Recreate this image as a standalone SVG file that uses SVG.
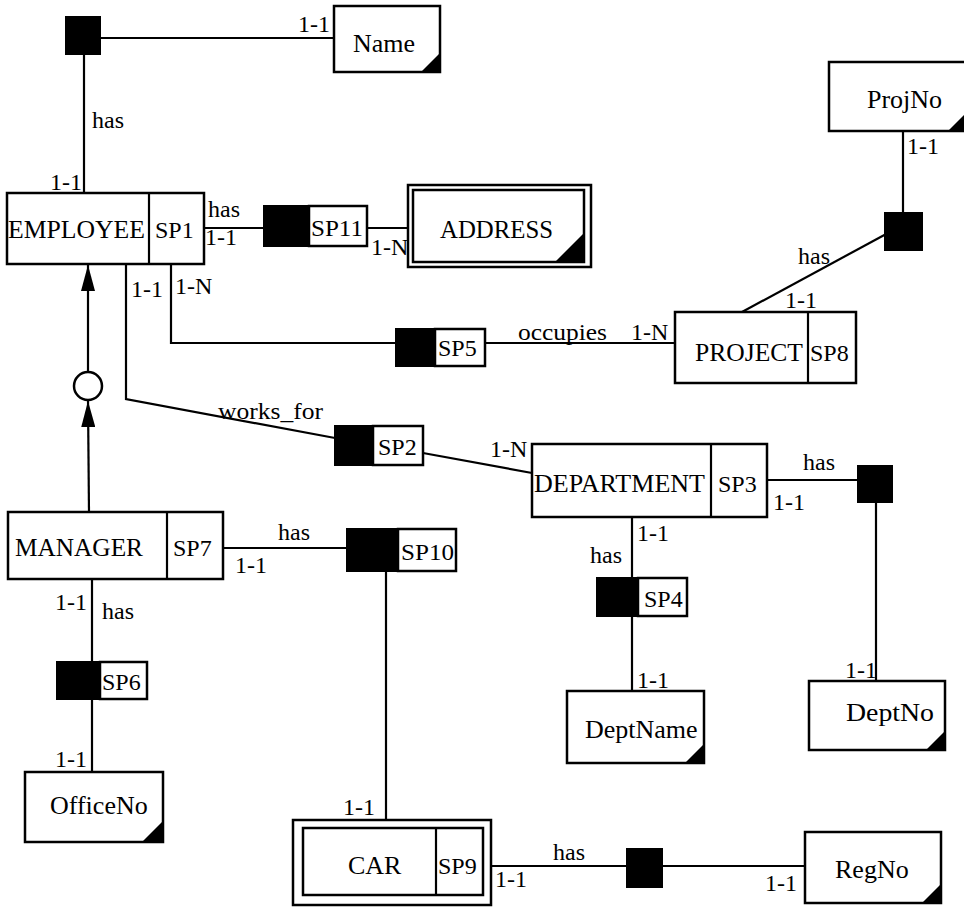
<svg xmlns="http://www.w3.org/2000/svg" width="964" height="907" viewBox="0 0 964 907">
<style>
text{font-family:"Liberation Serif","Times New Roman",serif;font-size:24px;fill:#000}
text.nm{font-size:26px}
.box{fill:#fff;stroke:#000;stroke-width:2.5}
.blk{fill:#000;stroke:#000;stroke-width:2}
.ln{fill:none;stroke:#000;stroke-width:2.2}
.tri{fill:#000}
</style>
<defs>
<marker id="arr" markerUnits="userSpaceOnUse" markerWidth="26" markerHeight="14" refX="26" refY="7" orient="auto">
<path d="M0,0 L26,7 L0,14 z" fill="#000"/>
</marker>
</defs>
<rect width="964" height="907" fill="#fff"/>

<g id="connectors">
<line class="ln" x1="100" y1="38" x2="334" y2="38"/>
<line class="ln" x1="84" y1="54" x2="84" y2="193"/>
<line class="ln" x1="204" y1="228" x2="264" y2="228"/>
<line class="ln" x1="367" y1="228" x2="408" y2="228"/>
<polyline class="ln" points="171,264 171,343 396,343"/>
<line class="ln" x1="485" y1="343" x2="675" y2="343"/>
<line class="ln" x1="742" y1="312" x2="888" y2="233"/>
<line class="ln" x1="903" y1="213" x2="903" y2="131"/>
<polyline class="ln" points="126,264 126,399 335,438"/>
<line class="ln" x1="423" y1="453" x2="532" y2="473"/>
<line class="ln" x1="767" y1="480" x2="858" y2="480"/>
<line class="ln" x1="876" y1="502" x2="876" y2="681"/>
<line class="ln" x1="632" y1="517" x2="632" y2="578"/>
<line class="ln" x1="632" y1="616" x2="632" y2="691"/>
<line class="ln" x1="223" y1="548" x2="347" y2="548"/>
<line class="ln" x1="386" y1="571" x2="386" y2="820"/>
<line class="ln" x1="92" y1="579" x2="92" y2="662"/>
<line class="ln" x1="92" y1="699" x2="92" y2="772"/>
<line class="ln" x1="491" y1="866" x2="627" y2="866"/>
<line class="ln" x1="662" y1="866" x2="805" y2="866"/>
<line class="ln" x1="89" y1="512" x2="88" y2="401" marker-end="url(#arr)"/>
<line class="ln" x1="88" y1="372" x2="88" y2="265" marker-end="url(#arr)"/>
<circle cx="88" cy="386" r="14" fill="#fff" stroke="#000" stroke-width="2.5"/>
</g>

<g id="labels">
<text x="298" y="32">1-1</text>
<text x="92" y="128">has</text>
<text x="50" y="190">1-1</text>
<text x="208" y="217">has</text>
<text x="205" y="245">1-1</text>
<text x="371" y="255">1-N</text>
<text x="131" y="297">1-1</text>
<text x="175" y="294">1-N</text>
<text x="518" y="340" textLength="89" lengthAdjust="spacingAndGlyphs">occupies</text>
<text x="631" y="340">1-N</text>
<text x="798" y="264">has</text>
<text x="785" y="308">1-1</text>
<text x="907" y="154">1-1</text>
<text x="218" y="419" textLength="105" lengthAdjust="spacingAndGlyphs">works_for</text>
<text x="490" y="457">1-N</text>
<text x="803" y="470">has</text>
<text x="773" y="510">1-1</text>
<text x="637" y="541">1-1</text>
<text x="590" y="563">has</text>
<text x="637" y="688">1-1</text>
<text x="845" y="678">1-1</text>
<text x="278" y="540">has</text>
<text x="235" y="573">1-1</text>
<text x="55" y="610">1-1</text>
<text x="102" y="619">has</text>
<text x="55" y="767">1-1</text>
<text x="343" y="815">1-1</text>
<text x="553" y="860">has</text>
<text x="495" y="887">1-1</text>
<text x="765" y="891">1-1</text>
</g>

<g id="rel-name"><rect class="blk" x="66" y="17" width="34" height="37"/></g>
<g id="rel-projno"><rect class="blk" x="885" y="213" width="37" height="37"/></g>
<g id="rel-deptno"><rect class="blk" x="858" y="466" width="34" height="36"/></g>
<g id="rel-regno"><rect class="blk" x="627" y="849" width="35" height="38"/></g>

<g id="SP11"><rect class="blk" x="264" y="206" width="45" height="40"/><rect class="box" x="309" y="206" width="58" height="40"/><text x="311" y="236" textLength="52" lengthAdjust="spacingAndGlyphs">SP11</text></g>
<g id="SP5"><rect class="blk" x="396" y="329" width="39" height="37"/><rect class="box" x="435" y="329" width="50" height="37"/><text x="438" y="356">SP5</text></g>
<g id="SP2"><rect class="blk" x="335" y="426" width="38" height="39"/><rect class="box" x="373" y="426" width="50" height="39"/><text x="378" y="455">SP2</text></g>
<g id="SP4"><rect class="blk" x="597" y="578" width="41" height="38"/><rect class="box" x="638" y="578" width="49" height="38"/><text x="644" y="607">SP4</text></g>
<g id="SP10"><rect class="blk" x="347" y="529" width="51" height="42"/><rect class="box" x="398" y="529" width="58" height="42"/><text x="401" y="560" textLength="53" lengthAdjust="spacingAndGlyphs">SP10</text></g>
<g id="SP6"><rect class="blk" x="57" y="662" width="43" height="37"/><rect class="box" x="100" y="662" width="47" height="37"/><text x="102" y="690">SP6</text></g>

<g id="EMPLOYEE"><rect class="box" x="7" y="193" width="197" height="71"/><line class="ln" x1="149" y1="193" x2="149" y2="264"/><text class="nm" x="8" y="238" textLength="137" lengthAdjust="spacingAndGlyphs">EMPLOYEE</text><text x="155" y="238">SP1</text></g>
<g id="PROJECT"><rect class="box" x="675" y="312" width="181" height="71"/><line class="ln" x1="808" y1="312" x2="808" y2="383"/><text class="nm" x="695" y="361" textLength="108" lengthAdjust="spacingAndGlyphs">PROJECT</text><text x="810" y="361">SP8</text></g>
<g id="DEPARTMENT"><rect class="box" x="532" y="444" width="235" height="73"/><line class="ln" x1="711" y1="444" x2="711" y2="517"/><text class="nm" x="534" y="492" textLength="171" lengthAdjust="spacingAndGlyphs">DEPARTMENT</text><text x="718" y="492">SP3</text></g>
<g id="MANAGER"><rect class="box" x="8" y="512" width="215" height="67"/><line class="ln" x1="167" y1="512" x2="167" y2="579"/><text class="nm" x="15" y="556" textLength="128" lengthAdjust="spacingAndGlyphs">MANAGER</text><text x="173" y="556">SP7</text></g>
<g id="CAR"><rect class="box" x="293" y="820" width="198" height="85"/><rect class="box" x="303" y="828" width="180" height="67"/><line class="ln" x1="436" y1="828" x2="436" y2="895"/><text class="nm" x="348" y="874">CAR</text><text x="438" y="874">SP9</text></g>
<g id="ADDRESS"><rect class="box" x="408" y="185" width="183" height="82"/><rect class="box" x="413" y="190" width="171" height="72"/><polygon class="tri" points="555,262 584,262 584,233"/><text class="nm" x="440" y="238" textLength="113" lengthAdjust="spacingAndGlyphs">ADDRESS</text></g>

<g id="Name"><rect class="box" x="334" y="6" width="106" height="66"/><polygon class="tri" points="421,72 440,72 440,53"/><text class="nm" x="353" y="52">Name</text></g>
<g id="ProjNo"><rect class="box" x="829" y="62" width="148" height="69"/><polygon class="tri" points="948,131 977,131 977,102"/><text class="nm" x="867" y="108">ProjNo</text></g>
<g id="DeptName"><rect class="box" x="567" y="691" width="137" height="72"/><polygon class="tri" points="685,763 704,763 704,744"/><text class="nm" x="585" y="738">DeptName</text></g>
<g id="DeptNo"><rect class="box" x="809" y="681" width="136" height="69"/><polygon class="tri" points="926,750 945,750 945,731"/><text class="nm" x="846" y="721" textLength="88" lengthAdjust="spacingAndGlyphs">DeptNo</text></g>
<g id="OfficeNo"><rect class="box" x="25" y="772" width="138" height="70"/><polygon class="tri" points="142,842 163,842 163,821"/><text class="nm" x="50" y="814">OfficeNo</text></g>
<g id="RegNo"><rect class="box" x="805" y="832" width="136" height="71"/><polygon class="tri" points="922,903 941,903 941,884"/><text class="nm" x="835" y="878">RegNo</text></g>
</svg>
